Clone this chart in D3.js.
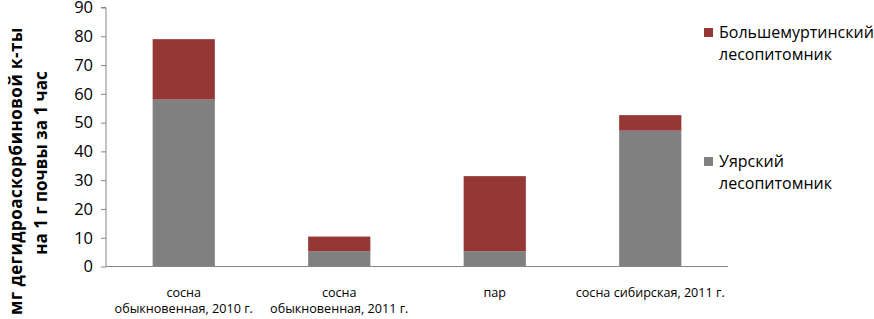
<!DOCTYPE html>
<html>
<title>Stacked bars</title>
<style>
  body { margin: 0px; background: #fff; }
  svg { display: block; }
  .tick text { font-family: "Open Sans", sans-serif; }
</style>
<script src="https://d3js.org/d3.v7.min.js"></script>
<body>
<svg></svg>
<script>

const categories = [
  ["сосна", "обыкновенная, 2010 г."],
  ["сосна", "обыкновенная, 2011 г."],
  ["пар"],
  ["сосна сибирская, 2011 г."]
];
const uyarsky = [58, 5.3, 5.3, 47.2];
const bolshemurtinsky = [21, 5.1, 26.1, 5.4];
const seriesNames = [["Большемуртинский", "лесопитомник"], ["Уярский", "лесопитомник"]];
const yTicks = [0, 10, 20, 30, 40, 50, 60, 70, 80, 90];

const width = 874, height = 319;
const grey = "#808080", red = "#953735";

const svg = d3.select("svg")
    .attr("width", width)
    .attr("height", height);

const x = d3.scaleBand()
    .domain(d3.range(categories.length))
    .range([106, 728])
    .paddingInner(0.6)
    .paddingOuter(0.3);

const y = d3.scaleLinear()
    .domain([0, 90])
    .range([266.5, 7.5]);

// bars
const rows = categories.map((c, i) => ({i: i, u: uyarsky[i], b: bolshemurtinsky[i]}));
const stack = d3.stack().keys(["u", "b"])(rows);
const colors = [grey, red];

svg.append("g").selectAll("g")
  .data(stack)
  .join("g")
    .attr("fill", (d, k) => colors[k])
  .selectAll("rect")
  .data(d => d)
  .join("rect")
    .attr("x", d => x(d.data.i))
    .attr("width", x.bandwidth())
    .attr("y", d => y(d[1]))
    .attr("height", d => y(d[0]) - y(d[1]));

// y axis
const yAxis = svg.append("g")
    .attr("transform", "translate(106,0)")
    .call(d3.axisLeft(y).tickValues(yTicks).tickSize(5).tickPadding(8));
yAxis.selectAll("line, path").attr("stroke", "#868686");
yAxis.select(".domain").attr("d", "M-5," + y(90) + "H0V" + y(0));
yAxis.selectAll(".tick text")
    .attr("font-size", 16.5)
    .attr("fill", "#000");

// x axis line
svg.append("line")
    .attr("x1", 106).attr("x2", 728)
    .attr("y1", y(0)).attr("y2", y(0))
    .attr("stroke", "#868686");

// category labels
const catLabels = svg.append("g")
    .attr("font-family", "'Open Sans', sans-serif")
    .attr("font-size", 12.6)
    .attr("text-anchor", "middle");
categories.forEach((lines, i) => {
  const t = catLabels.append("text")
      .attr("x", x(i) + x.bandwidth() / 2)
      .attr("y", 297);
  lines.forEach((s, j) => t.append("tspan")
      .attr("x", x(i) + x.bandwidth() / 2)
      .attr("dy", j ? 16 : 0)
      .text(s));
});

// y axis title
const title = svg.append("g")
    .attr("font-family", "'Open Sans', sans-serif")
    .attr("font-size", 17)
    .attr("font-weight", "bold")
    .attr("text-anchor", "middle");
title.append("text")
    .attr("transform", "translate(22,171) rotate(-90)")
    .attr("letter-spacing", 0.5)
    .text("мг дегидроаскорбиновой к-ты");
title.append("text")
    .attr("transform", "translate(47,163) rotate(-90)")
    .text("на 1 г почвы за 1 час");

// legend
const legendY = [38, 167];
const legend = svg.append("g")
    .attr("font-family", "'Open Sans', sans-serif")
    .attr("font-size", 16);
seriesNames.forEach((lines, k) => {
  const g = legend.append("g").attr("transform", "translate(704," + legendY[k] + ")");
  g.append("rect")
      .attr("x", 0).attr("y", -10)
      .attr("width", 9).attr("height", 9)
      .attr("fill", k === 0 ? red : grey);
  lines.forEach((s, j) => g.append("text")
      .attr("x", 15)
      .attr("y", j * 22)
      .text(s));
});
</script>
</body>
</html>
